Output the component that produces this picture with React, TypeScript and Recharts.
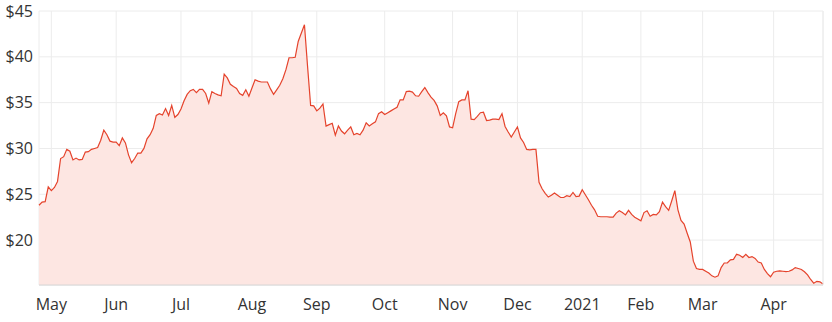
import { AreaChart, Area, XAxis, YAxis, CartesianGrid, ReferenceLine } from "recharts"

// daily closes, grouped by month (trading days)
const apr20 = [23.8, 24.15, 24.2, 25.8]
const may20 = [25.4, 25.75, 26.4, 28.9, 29.1, 29.9, 29.7, 28.75, 28.95, 28.75, 28.8, 29.6, 29.65, 29.9, 30.0, 30.1, 30.9, 32.0, 31.5, 30.8, 30.7]
const jun20 = [30.7, 30.3, 31.15, 30.6, 29.3, 28.45, 28.9, 29.5, 29.5, 30.0, 31.05, 31.5, 32.2, 33.6, 33.8, 33.65, 34.35, 33.6, 34.7, 33.4, 33.7]
const jul20 = [34.3, 35.2, 35.9, 36.3, 36.45, 36.1, 36.45, 36.45, 36.0, 34.95, 36.2, 36.0, 35.85, 35.75, 38.1, 37.7, 37.0, 36.75, 36.55, 36.0, 35.8, 36.4, 35.7]
const aug20 = [36.6, 37.5, 37.35, 37.25, 37.25, 37.25, 36.5, 35.9, 36.4, 36.9, 37.6, 38.6, 39.9, 39.9, 39.95, 41.7, 42.6, 43.5, 39.0, 34.7, 34.65]
const sep20 = [34.1, 34.4, 34.85, 32.45, 32.6, 32.75, 31.45, 32.45, 31.9, 31.6, 32.0, 32.35, 31.5, 31.65, 31.5, 32.0, 32.8, 32.45, 32.7, 32.9, 33.8, 34.0]
const oct20 = [33.7, 33.9, 34.1, 34.3, 34.5, 35.3, 35.3, 36.2, 36.25, 36.15, 35.75, 35.7, 36.2, 36.65, 36.1, 35.6, 35.25, 34.65, 33.6, 33.9, 33.55, 32.35]
const nov20 = [32.25, 33.8, 35.1, 35.3, 35.3, 36.3, 33.2, 33.15, 33.5, 33.9, 33.95, 33.05, 33.1, 33.2, 33.2, 33.15, 33.8, 32.4, 31.8, 31.25, 31.8]
const dec20 = [32.35, 31.15, 30.65, 29.9, 29.85, 29.9, 29.9, 26.3, 25.6, 25.1, 24.7, 24.9, 25.15, 24.9, 24.65, 24.65, 24.85, 24.75, 25.2, 24.75, 24.8]
const jan21 = [25.5, 24.95, 24.4, 23.8, 23.3, 22.6, 22.55, 22.55, 22.55, 22.5, 22.5, 22.95, 23.2, 23.0, 22.75, 23.25, 22.8, 22.5, 22.3]
const feb21 = [22.1, 23.0, 23.2, 22.6, 22.8, 22.75, 23.1, 24.15, 23.65, 23.25, 24.3, 25.4, 23.3, 22.15, 21.75, 20.75, 19.8, 17.7, 16.9, 16.8]
const mar21 = [16.8, 16.6, 16.4, 16.1, 15.95, 16.1, 17.0, 17.5, 17.5, 17.85, 17.9, 18.45, 18.35, 18.1, 18.45, 18.1, 18.2, 18.0, 17.6, 17.5, 16.8, 16.35, 16.0]
const apr21 = [16.5, 16.6, 16.65, 16.6, 16.55, 16.6, 16.75, 17.0, 16.9, 16.8, 16.55, 16.2, 15.7, 15.3, 15.5, 15.45, 15.2]

const months = [apr20, may20, jun20, jul20, aug20, sep20, oct20, nov20, dec20, jan21, feb21, mar21, apr21]
const monthLabels = ["May", "Jun", "Jul", "Aug", "Sep", "Oct", "Nov", "Dec", "2021", "Feb", "Mar", "Apr"]
const priceTicks = [20, 25, 30, 35, 40, 45]

const data: { i: number; price: number }[] = []
const monthStarts: number[] = []
months.forEach((m, mi) => {
  if (mi > 0) monthStarts.push(data.length)
  m.forEach((p) => data.push({ i: data.length, price: p }))
})

const RED = "#e5432c"
const GRID = "#ececec"
const FONT = "'Open Sans', sans-serif"

export default function App() {
  const last = data.length - 1
  return (
    <div style={{ position: "absolute", left: 0, top: 0, background: "#fff" }}>
      <AreaChart width={832} height={322} data={data} margin={{ top: 11, right: 9, left: 0, bottom: 0 }}>
        <CartesianGrid stroke={GRID} />
        <XAxis
          type="number"
          dataKey="i"
          domain={[0, last]}
          ticks={monthStarts}
          interval={0}
          tickFormatter={(v) => monthLabels[monthStarts.indexOf(v)] ?? ""}
          height={37}
          tickLine={false}
          tickSize={6}
          tickMargin={8}
          axisLine={{ stroke: "#d6d6d6" }}
          tick={{ fontSize: 16, fill: "#333", fontFamily: FONT }}
        />
        <YAxis
          type="number"
          domain={[15.1, 45]}
          ticks={priceTicks}
          interval={0}
          tickFormatter={(v) => `$${v}`}
          width={39}
          tickLine={false}
          axisLine={false}
          tickSize={6}
          tickMargin={0}
          tick={{ fontSize: 16, fill: "#333", fontFamily: FONT }}
        />
        <ReferenceLine x={last} stroke={GRID} />
        <Area
          type="linear"
          dataKey="price"
          stroke={RED}
          strokeWidth={1.2}
          fill="#fde6e2"
          fillOpacity={1}
          dot={false}
          activeDot={false}
          isAnimationActive={false}
        />
      </AreaChart>
    </div>
  )
}
